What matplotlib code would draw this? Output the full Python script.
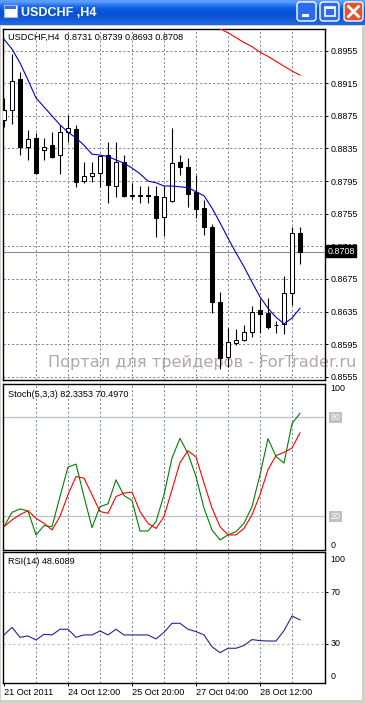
import numpy as np
import matplotlib.pyplot as plt
from matplotlib.patches import Rectangle, FancyBboxPatch

# ---- data (USDCHF, H4) ----
opens = [0.8870, 0.8882, 0.8920, 0.8837, 0.8848, 0.8833, 0.8839, 0.8827, 0.8855, 0.8859,
         0.8795, 0.8801, 0.8805, 0.8827, 0.8789, 0.8818, 0.8778, 0.8777, 0.8778, 0.8777,
         0.8751, 0.8771, 0.8818, 0.8812, 0.8782, 0.8762, 0.8739, 0.8647, 0.8579, 0.8597,
         0.8600, 0.8610, 0.8637, 0.8633, 0.8618, 0.8620, 0.8658, 0.8731]
highs = [0.8897, 0.8951, 0.8929, 0.8858, 0.8854, 0.8848, 0.8855, 0.8864, 0.8876, 0.8864,
         0.8818, 0.8818, 0.8827, 0.8843, 0.8843, 0.8827, 0.8793, 0.8789, 0.8789, 0.8789,
         0.8789, 0.8860, 0.8827, 0.8823, 0.8802, 0.8772, 0.8742, 0.8659, 0.8615, 0.8614,
         0.8618, 0.8642, 0.8650, 0.8652, 0.8623, 0.8679, 0.8739, 0.8739]
lows = [0.8861, 0.8865, 0.8827, 0.8821, 0.8804, 0.8821, 0.8823, 0.8804, 0.8843, 0.8788,
        0.8793, 0.8794, 0.8788, 0.8768, 0.8775, 0.8775, 0.8773, 0.8768, 0.8768, 0.8726,
        0.8728, 0.8769, 0.8802, 0.8763, 0.8750, 0.8729, 0.8633, 0.8564, 0.8567, 0.8594,
        0.8599, 0.8604, 0.8609, 0.8613, 0.8609, 0.8607, 0.8643, 0.8693]
closes = [0.8882, 0.8918, 0.8837, 0.8847, 0.8805, 0.8837, 0.8825, 0.8855, 0.8860, 0.8794,
          0.8801, 0.8805, 0.8826, 0.8790, 0.8818, 0.8777, 0.8777, 0.8778, 0.8777, 0.8750,
          0.8775, 0.8817, 0.8812, 0.8779, 0.8761, 0.8739, 0.8647, 0.8578, 0.8598, 0.8600,
          0.8610, 0.8634, 0.8632, 0.8616, 0.8619, 0.8658, 0.8731, 0.8708]

ma_fast = [0.8969, 0.8957, 0.8940, 0.8919, 0.8897, 0.8886, 0.8875, 0.8864, 0.8855, 0.8848,
           0.8839, 0.8828, 0.8827, 0.8825, 0.8821, 0.8817, 0.8811, 0.8804, 0.8795, 0.8793,
           0.8789, 0.8789, 0.8788, 0.8787, 0.8782, 0.8777, 0.8762, 0.8744, 0.8725, 0.8707,
           0.8690, 0.8671, 0.8653, 0.8639, 0.8628, 0.8620, 0.8627, 0.8639]
# slow MA only visible at the top right
ma_slow_start = 26
ma_slow = [0.8988, 0.8982, 0.8977, 0.8971, 0.8965, 0.8960, 0.8953, 0.8948, 0.8942,
           0.8936, 0.8930, 0.8925]

stoch_k = [13.8, 22.5, 24.5, 23.3, 8.8, 14.4, 13.8, 32.0, 49.8, 51.6, 32.0, 13.2, 25.9,
           27.6, 42.1, 32.6, 29.6, 11.2, 11.2, 16.8, 33.1, 55.3, 67.2, 57.9, 44.1, 25.0,
           11.8, 5.8, 8.8, 10.8, 15.8, 25.9, 45.2, 67.0, 56.2, 52.2, 76.1, 82.3]
stoch_d = [13.8, 17.9, 21.0, 23.5, 18.8, 15.8, 11.8, 20.0, 33.1, 44.1, 43.1, 33.1, 22.9,
           21.9, 32.0, 34.1, 34.7, 22.9, 15.8, 12.7, 19.9, 36.1, 52.6, 59.7, 55.9, 40.1,
           25.0, 13.8, 8.8, 8.8, 12.7, 21.0, 33.1, 48.2, 56.8, 58.7, 61.3, 70.5]
rsi = [37.0, 42.9, 35.2, 36.2, 33.1, 37.5, 37.0, 41.4, 41.4, 35.2, 37.0, 37.0, 40.1, 37.0,
       41.4, 37.0, 37.0, 37.0, 37.0, 33.9, 39.0, 46.0, 46.0, 41.4, 39.6, 37.0, 27.9, 23.3,
       26.7, 26.7, 28.8, 33.4, 32.6, 32.3, 32.3, 40.3, 51.7, 48.6]

price_ticks = [0.8555, 0.8595, 0.8635, 0.8675, 0.8715, 0.8755, 0.8795, 0.8835, 0.8875,
               0.8915, 0.8955]
last_price = 0.8708
date_pos = [0, 8, 16, 24, 32]
date_labels = ["21 Oct 2011", "24 Oct 12:00", "25 Oct 20:00", "27 Oct 04:00", "28 Oct 12:00"]
grid_bars = [4, 8, 12, 16, 20, 24, 28, 32, 36]

header = "USDCHF,H4  0.8731 0.8739 0.8693 0.8708"
stoch_title = "Stoch(5,3,3) 82.3353 70.4970"
rsi_title = "RSI(14) 48.6089"
watermark = "Портал для трейдеров - ForTrader.ru"

# ---- layout (pixels) ----
W, H = 365, 703
FONT = "Liberation Sans"
FS = 6.4
GRID = "#778899"
plt.rcParams["font.family"] = [FONT, "DejaVu Sans"]

fig = plt.figure(figsize=(W / 100, H / 100), dpi=100)
fig.patch.set_facecolor("#D4D0C8")


def frac(x0, y0, x1, y1):
    return [x0 / W, 1 - y1 / H, (x1 - x0) / W, (y1 - y0) / H]


def P(x, y):
    return (x / W, 1 - y / H)


# window chrome
bg = fig.add_axes([0, 0, 1, 1])
bg.set_xlim(0, W)
bg.set_ylim(H, 0)
bg.axis("off")
grad = np.array([[0.36, 0.62, 1.0], [0.16, 0.45, 0.93], [0.04, 0.36, 0.87],
                 [0.03, 0.33, 0.84], [0.04, 0.33, 0.84], [0.08, 0.36, 0.86],
                 [0.12, 0.40, 0.88]])[:, None, :]
bg.imshow(grad, extent=(0, W, 25, 0), aspect="auto", interpolation="bilinear")
bg.add_patch(Rectangle((1, 26), 361, 674, facecolor="white", edgecolor="none"))
bg.add_patch(Rectangle((4, 5), 13, 12, facecolor="white", edgecolor="#9DB9EB", lw=0.8))
bg.add_patch(Rectangle((5, 6), 11, 3, facecolor="#3A6FD8", edgecolor="none"))
bg.text(21, 13, "USDCHF ,H4", color="white", fontsize=9, fontweight="bold",
        va="center", ha="left")
for x0, fc in [(297, "#2B6BF0"), (320, "#2B6BF0"), (344, "#E0552F")]:
    bg.add_patch(FancyBboxPatch((x0, 2), 19, 19, boxstyle="round,pad=0,rounding_size=3",
                                facecolor=fc, edgecolor="white", lw=1))
bg.add_patch(Rectangle((302, 14), 7, 3, facecolor="white"))
bg.add_patch(Rectangle((325, 6.5), 10, 9.5, facecolor="none", edgecolor="white", lw=1.2))
bg.add_patch(Rectangle((325, 6.5), 10, 2, facecolor="white"))
bg.plot([348.5, 358.5], [6.5, 16.5], color="white", lw=2)
bg.plot([348.5, 358.5], [16.5, 6.5], color="white", lw=2)

XL = (-0.125, 40.125)


def panel(y0, y1):
    ax = fig.add_axes(frac(3, y0, 325, y1))
    ax.set_facecolor("white")
    ax.set_xlim(*XL)
    for s in ax.spines.values():
        s.set_color("black")
        s.set_linewidth(1.0)
    ax.yaxis.tick_right()
    ax.tick_params(axis="y", length=2.2, width=0.7, pad=1.5, labelsize=FS)
    ax.tick_params(axis="x", length=0)
    ax.set_xticks([])
    for b in grid_bars:
        ax.axvline(b, color=GRID, lw=0.7, dashes=(2.2, 2.2), zorder=0.5)
    return ax


# ---- main price panel ----
ax = panel(29, 380)
ax.set_ylim(0.85510, 0.89816)
ax.set_yticks(price_ticks)
ax.set_yticklabels([f"{p:.4f}" for p in price_ticks])
for p in price_ticks:
    ax.axhline(p, color=GRID, lw=0.7, dashes=(2.2, 2.2), zorder=0.5)
ax.axhline(last_price, color="#8C8C8C", lw=0.8, zorder=0.6)

x = np.arange(len(opens))
o = np.array(opens)
c = np.array(closes)
ax.vlines(x, lows, highs, color="black", lw=0.8, zorder=2)
up = c >= o
ax.bar(x[up], (c - o)[up], bottom=o[up], width=0.55, facecolor="white",
       edgecolor="black", linewidth=0.75, zorder=3)
ax.bar(x[~up], (o - c)[~up], bottom=c[~up], width=0.55, facecolor="black",
       edgecolor="black", linewidth=0.75, zorder=3)
ax.plot(x, ma_fast, color="#0000D0", lw=0.8, zorder=4)
ax.plot(np.arange(ma_slow_start, ma_slow_start + len(ma_slow)), ma_slow,
        color="#FF0000", lw=0.8, zorder=4)

ax.text(*P(8, 37), header, transform=fig.transFigure, fontsize=6.6, va="center",
        ha="left", zorder=6)
ax.text(*P(48, 362), watermark, transform=fig.transFigure, fontsize=11.6,
        family="DejaVu Sans", color="#B3A7A7", va="center", ha="left", zorder=1,
        clip_on=False)
ax.text(*P(327.5, 251), f"{last_price:.4f}", transform=fig.transFigure, fontsize=FS,
        color="white", va="center", ha="left", zorder=10, clip_on=False,
        bbox=dict(boxstyle="square,pad=0.15", facecolor="black", edgecolor="black"))

# ---- stochastic panel ----
ax2 = panel(384, 549.5)
ax2.set_ylim(0, 100)
ax2.set_yticks([])
ax2.axhline(80, color="#C0C0C0", lw=0.9, zorder=0.7)
ax2.axhline(20, color="#C0C0C0", lw=0.9, zorder=0.7)
ax2.plot(x, stoch_k, color="#008000", lw=0.8, zorder=3)
ax2.plot(x, stoch_d, color="#FF0000", lw=0.8, zorder=3)
ax2.text(*P(8, 395), stoch_title, transform=fig.transFigure, fontsize=6.6,
         va="center", ha="left", zorder=6)
tr2 = ax2.get_yaxis_transform()
ax2.text(1.017, 100, "100", transform=tr2, fontsize=FS, va="top", ha="left",
         clip_on=False)
ax2.text(1.017, 0, "0", transform=tr2, fontsize=FS, va="bottom", ha="left",
         clip_on=False)
for lv in (80, 20):
    ax2.text(1.017, lv, str(lv), transform=tr2, fontsize=FS, va="center", ha="left",
             color="white", clip_on=False,
             bbox=dict(boxstyle="square,pad=0.12", facecolor="#C0C0C0", edgecolor="none"))

# ---- RSI panel ----
ax3 = panel(552.3, 683.3)
ax3.set_ylim(-0.4, 100.9)
ax3.set_yticks([70, 30])
ax3.set_yticklabels([])
ax3.axhline(70, color="#C0C0C0", lw=0.8, dashes=(2.2, 2.2), zorder=0.7)
ax3.axhline(30, color="#C0C0C0", lw=0.8, dashes=(2.2, 2.2), zorder=0.7)
ax3.plot(x, rsi, color="#24248C", lw=0.8, zorder=3)
ax3.text(*P(8, 562), rsi_title, transform=fig.transFigure, fontsize=6.6,
         va="center", ha="left", zorder=6)
tr3 = ax3.get_yaxis_transform()
ax3.text(1.017, 99, "100", transform=tr3, fontsize=FS, va="top", ha="left", clip_on=False)
ax3.text(1.017, 70, "70", transform=tr3, fontsize=FS, va="center", ha="left", clip_on=False)
ax3.text(1.017, 30, "30", transform=tr3, fontsize=FS, va="center", ha="left", clip_on=False)
ax3.text(1.017, 1, "0", transform=tr3, fontsize=FS, va="bottom", ha="left", clip_on=False)

ax3.set_xticks(date_pos)
ax3.set_xticklabels(date_labels)
ax3.tick_params(axis="x", length=2.2, width=0.7, pad=1.5, labelsize=6.6)
for t in ax3.get_xticklabels():
    t.set_horizontalalignment("left")

fig.savefig("out.png", dpi=100, facecolor=fig.get_facecolor())
